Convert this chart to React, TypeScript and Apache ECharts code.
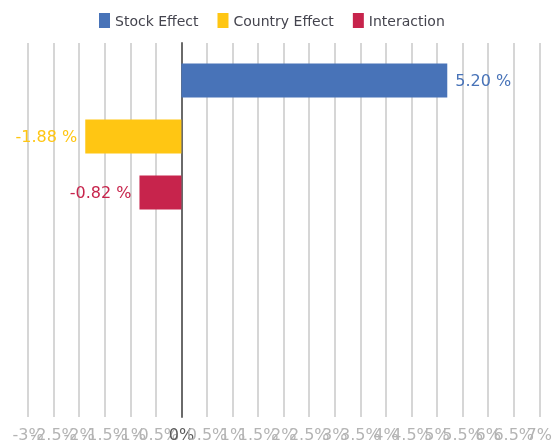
import React, { useEffect, useRef } from "react";
import * as echarts from "echarts";

const categories = ["Attribution", ""];
const seriesNames = ["Stock Effect", "Country Effect", "Interaction"];
const stockEffect = [5.2, null];
const countryEffect = [-1.88, null];
const interaction = [-0.82, null];
const colors = ["#4873b8", "#ffc613", "#c7244c"];
const xMin = -3;
const xMax = 7;
const xStep = 0.5;

export default function App() {
  const ref = useRef<HTMLDivElement>(null);
  useEffect(() => {
    if (!ref.current) return;
    const chart = echarts.init(ref.current, undefined, { renderer: "svg" });
    const dataSets = [stockEffect, countryEffect, interaction];
    const labelBase = {
      fontSize: 16,
      color: "#b4b4b4",
      margin: 9,
      interval: 0,
      hideOverlap: false,
      fontFamily: "DejaVu Sans",
      rich: { z: { color: "#5a5a5a", fontSize: 16, fontFamily: "DejaVu Sans" } },
    };
    chart.setOption({
      animation: false,
      textStyle: { fontFamily: "DejaVu Sans" },
      legend: {
        left: 94,
        top: 8,
        icon: "rect",
        itemWidth: 11,
        itemHeight: 15,
        itemGap: 19,
        textStyle: { fontSize: 14, color: "#44444e", fontFamily: "DejaVu Sans" },
        data: seriesNames,
      },
      grid: { left: 28, width: 518, top: 43, height: 374, containLabel: false },
      xAxis: [
        {
          type: "value",
          min: xMin,
          max: xMax,
          interval: xStep,
          axisLine: { show: false },
          axisTick: { show: false },
          splitLine: { show: true, lineStyle: { color: "#d6d6d6", width: 2 } },
          axisLabel: {
            ...labelBase,
            showMinLabel: false,
            showMaxLabel: false,
            formatter: (v: number) => (v === 0 ? "{z|0%}" : v + "%"),
          },
        },
        {
          type: "value",
          position: "bottom",
          min: xMin,
          max: xMax,
          interval: xStep,
          axisLine: { show: false },
          axisTick: { show: false },
          splitLine: { show: false },
          axisLabel: {
            ...labelBase,
            showMinLabel: true,
            showMaxLabel: true,
            formatter: (v: number) => (v === xMin || v === xMax ? v + "%" : ""),
          },
        },
      ],
      yAxis: {
        type: "category",
        inverse: true,
        data: categories,
        axisLine: { show: true, lineStyle: { color: "#6a6a6a", width: 2 } },
        axisTick: { show: false },
        axisLabel: { show: false },
        splitLine: { show: false },
      },
      series: seriesNames.map((name, i) => ({
        name,
        type: "bar",
        xAxisIndex: 0,
        data: dataSets[i],
        barWidth: 34,
        barGap: "65%",
        itemStyle: { color: colors[i] },
        label: {
          show: true,
          position: (dataSets[i][0] as number) >= 0 ? "right" : "left",
          distance: 8,
          fontSize: 16,
          color: colors[i],
          fontFamily: "DejaVu Sans",
          formatter: (p: any) => (p.value as number).toFixed(2) + " %",
        },
      })),
    });
    return () => chart.dispose();
  }, []);
  return (
    <div
      ref={ref}
      style={{ position: "fixed", left: 0, top: 0, width: 555, height: 443 }}
    />
  );
}
